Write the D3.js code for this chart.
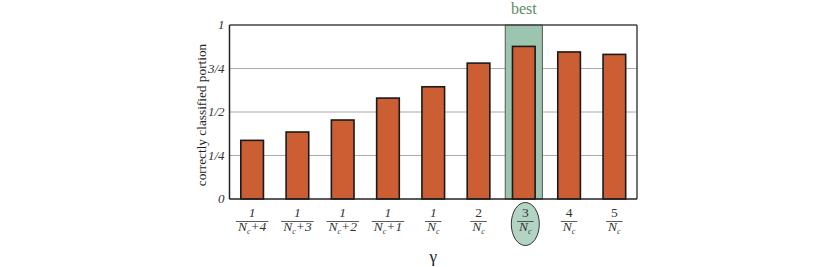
<!DOCTYPE html>
<html>
<head>
<meta charset="utf-8">
<script src="https://cdn.jsdelivr.net/npm/d3@7"></script>
<style>
body { margin: 0; background: #fff; }
text { font-family: "Liberation Serif", "DejaVu Serif", serif; }
</style>
</head>
<body>
<div id="chart"></div>
<script>
// data
let numerators = ["1", "1", "1", "1", "1", "2", "3", "4", "5"];
let offsets = ["+4", "+3", "+2", "+1", "", "", "", "", ""];
let values = [0.337, 0.385, 0.454, 0.58, 0.645, 0.781, 0.877, 0.845, 0.831];
let yTicks = [0, 0.25, 0.5, 0.75, 1];
let yTickLabels = ["0", "1/4", "1/2", "3/4", "1"];
let bestIndex = 6;

let margin = {top: 25, right: 193, left: 229.5, bottom: 68};
let width = 830 - margin.left - margin.right;
let height = 267 - margin.top - margin.bottom;

let svg = d3.select("#chart")
    .append("svg")
    .attr("width", 830)
    .attr("height", 267);

let chart = svg.append("g")
    .attr("transform", "translate(" + margin.left + ", " + margin.top + ")");

let x = d3.scaleBand()
    .domain(values.map((d, i) => i))
    .range([0, width])
    .paddingInner(0.5)
    .paddingOuter(0.25);

let y = d3.scaleLinear()
    .domain([0, 1])
    .range([height, 0]);

// grid lines
chart.selectAll("line.grid")
    .data(yTicks.filter(d => d > 0 && d < 1))
    .enter()
    .append("line")
    .attr("class", "grid")
    .attr("x1", 0)
    .attr("x2", width)
    .attr("y1", d => y(d))
    .attr("y2", d => y(d))
    .attr("stroke", "#aaa")
    .attr("stroke-width", 1);

// highlight column for the best value
let step = x.step();
let hw = step * 0.82;
chart.append("rect")
    .attr("x", x(bestIndex) + x.bandwidth() / 2 - hw / 2)
    .attr("y", y(1))
    .attr("width", hw)
    .attr("height", y(0) - y(1))
    .attr("fill", "#9cc5b0")
    .attr("stroke", "#555")
    .attr("stroke-width", 1);

chart.append("text")
    .attr("x", x(bestIndex) + x.bandwidth() / 2)
    .attr("y", -11)
    .attr("text-anchor", "middle")
    .attr("fill", "#5b8c66")
    .style("font-size", "16px")
    .text("best");

// bars
chart.selectAll("rect.bar")
    .data(values)
    .enter()
    .append("rect")
    .attr("class", "bar")
    .attr("x", (d, i) => x(i))
    .attr("y", d => y(d))
    .attr("width", x.bandwidth())
    .attr("height", d => y(0) - y(d))
    .attr("fill", "#cc5e34")
    .attr("stroke", "#1a1a1a")
    .attr("stroke-width", 1.6);

// frame
chart.append("line")
    .attr("x1", 0).attr("x2", width)
    .attr("y1", y(1)).attr("y2", y(1))
    .attr("stroke", "#444").attr("stroke-width", 1.5);
chart.append("line")
    .attr("x1", width).attr("x2", width)
    .attr("y1", y(1)).attr("y2", y(0))
    .attr("stroke", "#444").attr("stroke-width", 1.5);
chart.append("line")
    .attr("x1", 0).attr("x2", 0)
    .attr("y1", y(1)).attr("y2", y(0))
    .attr("stroke", "#222").attr("stroke-width", 1.5);
chart.append("line")
    .attr("x1", 0).attr("x2", width)
    .attr("y1", y(0)).attr("y2", y(0))
    .attr("stroke", "#222").attr("stroke-width", 1.5);

// y tick labels
chart.selectAll("text.ytick")
    .data(yTicks)
    .enter()
    .append("text")
    .attr("class", "ytick")
    .attr("x", -5)
    .attr("y", d => y(d) + 4)
    .attr("text-anchor", "end")
    .attr("fill", "#333")
    .style("font-size", "13px")
    .style("font-style", "italic")
    .text((d, i) => yTickLabels[i]);

// y label
chart.append("text")
    .attr("transform", "translate(-24," + (height / 2 + 3) + ") rotate(-90)")
    .attr("text-anchor", "middle")
    .attr("fill", "#222")
    .style("font-size", "13.3px")
    .text("correctly classified portion");

// ellipse around the best tick
chart.append("ellipse")
    .attr("cx", x(bestIndex) + x.bandwidth() / 2 + 1.5)
    .attr("cy", height + 25)
    .attr("rx", 14)
    .attr("ry", 21.5)
    .attr("fill", "#b3d4c3")
    .attr("stroke", "#333")
    .attr("stroke-width", 1);

// x tick labels as fractions
let ticks = chart.selectAll("g.xtick")
    .data(values)
    .enter()
    .append("g")
    .attr("class", "xtick")
    .attr("transform", (d, i) => "translate(" + (x(i) + x.bandwidth() / 2 + (i == bestIndex ? 1.5 : 0)) + "," + height + ")");

ticks.append("text")
    .attr("y", 17.5)
    .attr("text-anchor", "middle")
    .attr("fill", "#333")
    .style("font-size", "13.5px")
    .style("font-style", (d, i) => numerators[i] == "1" ? "italic" : "normal")
    .text((d, i) => numerators[i]);

let den = ticks.append("text")
    .attr("class", "den")
    .attr("y", 31.5)
    .attr("text-anchor", "middle")
    .attr("fill", "#333")
    .style("font-size", "13.5px")
    .style("font-style", "italic");
den.append("tspan").text("N");
den.append("tspan")
    .attr("dy", 3)
    .style("font-size", "8px")
    .text("c");
den.append("tspan")
    .attr("dy", -3)
    .text((d, i) => offsets[i]);

ticks.each(function () {
    let g = d3.select(this);
    let w = g.select("text.den").node().getComputedTextLength();
    g.append("line")
        .attr("x1", -w / 2 - 2)
        .attr("x2", w / 2 + 2)
        .attr("y1", 22.5)
        .attr("y2", 22.5)
        .attr("stroke", "#333")
        .attr("stroke-width", 0.8);
});

// x label
chart.append("text")
    .attr("x", width / 2)
    .attr("y", height + 63)
    .attr("text-anchor", "middle")
    .attr("fill", "#222")
    .style("font-size", "17px")
    .text("γ");
</script>
</body>
</html>
